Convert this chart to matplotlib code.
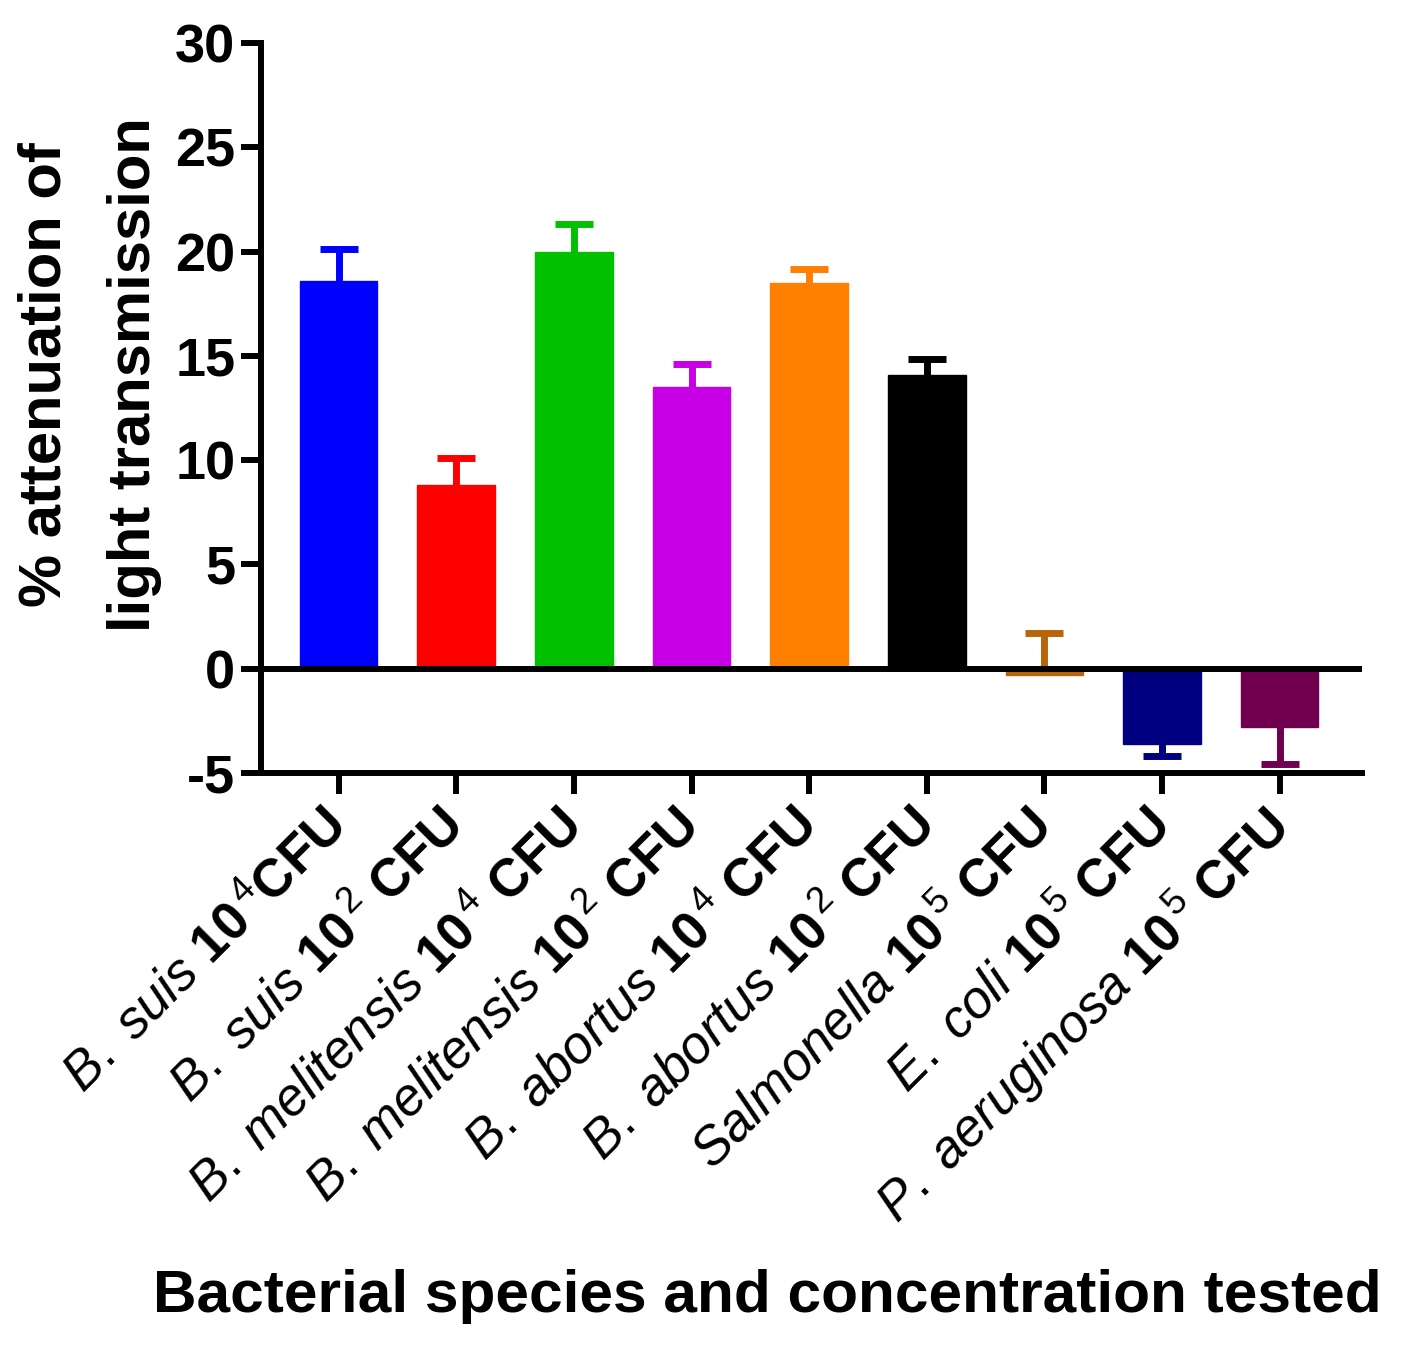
import matplotlib
matplotlib.use("Agg")
import matplotlib.pyplot as plt
import numpy as np

plt.rcParams['font.family'] = ['Liberation Sans', 'DejaVu Sans']
plt.rcParams['mathtext.fontset'] = 'custom'
plt.rcParams['mathtext.rm'] = 'Liberation Sans'
plt.rcParams['mathtext.it'] = 'Liberation Sans:italic'
plt.rcParams['mathtext.bf'] = 'Liberation Sans:bold'

labels = [
    r"$\mathit{B.\ suis}\ \mathbf{10}^{\,\mathrm{4}}\mathbf{CFU}$",
    r"$\mathit{B.\ suis}\ \mathbf{10}^{\,\mathrm{2}}\ \mathbf{CFU}$",
    r"$\mathit{B.\ melitensis}\ \mathbf{10}^{\,\mathrm{4}}\ \mathbf{CFU}$",
    r"$\mathit{B.\ melitensis}\ \mathbf{10}^{\,\mathrm{2}}\ \mathbf{CFU}$",
    r"$\mathit{B.\ abortus}\ \mathbf{10}^{\,\mathrm{4}}\ \mathbf{CFU}$",
    r"$\mathit{B.\ abortus}\ \mathbf{10}^{\,\mathrm{2}}\ \mathbf{CFU}$",
    r"$\mathit{Salmonella}\ \mathbf{10}^{\,\mathrm{5}}\ \mathbf{CFU}$",
    r"$\mathit{E.\ coli}\ \mathbf{10}^{\,\mathrm{5}}\ \mathbf{CFU}$",
    r"$\mathit{P.\ aeruginosa}\ \mathbf{10}^{\,\mathrm{5}}\ \mathbf{CFU}$",
]
means = [18.6, 8.8, 20.0, 13.5, 18.5, 14.1, -0.3, -3.6, -2.8]
err_upper = [1.5, 1.3, 1.3, 1.1, 0.65, 0.75, 2.0, 0.0, 0.0]
err_lower = [0.0, 0.0, 0.0, 0.0, 0.0, 0.0, 0.0, 0.6, 1.75]
colors = ["#0000FF", "#FF0000", "#00C000", "#C800E6", "#FF8000",
          "#000000", "#B8650A", "#000080", "#70004F"]
yticks = [-5, 0, 5, 10, 15, 20, 25, 30]

W, H = 1404, 1348
fig = plt.figure(figsize=(W / 100, H / 100), dpi=100)
ax = fig.add_axes([261 / W, 1 - 773 / H, (1362 - 261) / W, (773 - 43) / H])

x = np.arange(len(means))
lw = 4.3
ax.bar(x, means, width=0.66, color=colors, edgecolor=colors, linewidth=1, zorder=2)
for i in range(len(means)):
    m = means[i]
    for end in (m + err_upper[i], m - err_lower[i]):
        if end != m:
            ax.plot([x[i], x[i]], [m, end], color=colors[i], lw=5,
                    solid_capstyle='butt', zorder=3)
            ax.plot([x[i]], [end], marker='_', markersize=28, mew=5,
                    color=colors[i], zorder=3)
ax.axhline(0, color='black', lw=lw, zorder=4)

ax.set_xlim(-0.66, 8.7)
ax.set_ylim(-5, 30)
ax.set_yticks(yticks)
ax.set_yticklabels([str(t) for t in yticks], fontsize=39, fontweight='bold')
ax.set_xticks(x)
ax.set_xticklabels(labels, fontsize=38, rotation=45, ha='right', va='center',
                   rotation_mode='anchor')
for side in ['top', 'right']:
    ax.spines[side].set_visible(False)
for side in ['left', 'bottom']:
    ax.spines[side].set_linewidth(lw)
    ax.spines[side].set_capstyle('projecting')
ax.tick_params(axis='y', length=14.5, width=lw, pad=4)
ax.tick_params(axis='x', length=15, width=lw, pad=18)

fig.text(45 / W, 1 - 375 / H, "% attenuation of", rotation=90, fontsize=43,
         fontweight='bold', ha='center', va='center')
fig.text(135 / W, 1 - 375 / H, "light transmission", rotation=90, fontsize=43,
         fontweight='bold', ha='center', va='center')
fig.text(767 / W, 1 - 1297 / H, "Bacterial species and concentration tested",
         fontsize=43.5, fontweight='bold', ha='center', va='center')

fig.savefig("out.png", dpi=100, facecolor='white')
